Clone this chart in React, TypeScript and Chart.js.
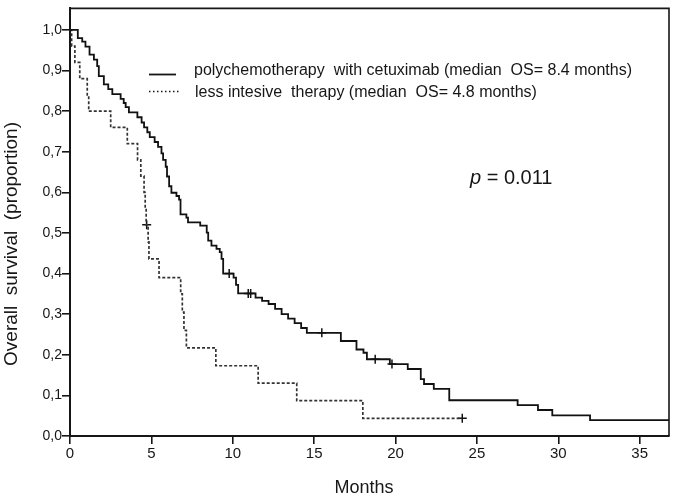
import { useEffect, useRef } from "react";
import { Chart, registerables } from "chart.js";

Chart.register(...registerables);

// Kaplan-Meier: polychemotherapy with cetuximab (time in months, survival proportion after event)
const cetuxTimes = [
  0, 0.48, 0.75, 0.95, 1.2, 1.47, 1.67, 1.77, 2.08, 2.35, 2.6, 3.11, 3.3, 3.42, 3.62,
  4.14, 4.4, 4.55, 4.75, 4.9, 5.2, 5.41, 5.62, 5.72, 5.88, 5.96, 6.09, 6.23, 6.54, 6.7,
  6.79, 7.15, 7.25, 8.0, 8.4, 8.49, 8.69, 9.0, 9.2, 9.31, 9.41, 10.05, 10.2, 10.33,
  11.4, 11.8, 12.2, 12.6, 13.0, 13.4, 13.8, 14.2, 14.55, 16.64, 17.6, 18.03, 18.24,
  19.65, 20.75, 21.55, 21.75, 22.35, 23.3, 27.5, 28.75, 29.63, 31.95, 36.8,
];
const cetuxSurvival = [
  1.0, 0.98, 0.971, 0.959, 0.939, 0.927, 0.911, 0.886, 0.866, 0.854, 0.842, 0.83, 0.82, 0.81, 0.797,
  0.785, 0.772, 0.76, 0.748, 0.736, 0.724, 0.712, 0.696, 0.68, 0.663, 0.639, 0.615, 0.599, 0.591, 0.582,
  0.546, 0.538, 0.526, 0.518, 0.501, 0.481, 0.469, 0.461, 0.453, 0.436, 0.4, 0.39, 0.372, 0.351,
  0.341, 0.333, 0.325, 0.313, 0.3, 0.289, 0.278, 0.266, 0.254, 0.234, 0.213, 0.205, 0.189,
  0.177, 0.165, 0.14, 0.128, 0.116, 0.088, 0.076, 0.064, 0.051, 0.039, 0.039,
];
const cetuxCensorTimes = [9.78, 10.95, 11.1, 15.47, 18.75, 19.78];
const cetuxCensorSurvival = [0.4, 0.351, 0.351, 0.254, 0.189, 0.177];

// Kaplan-Meier: less intensive therapy
const lessTimes = [
  0, 0.1, 0.3, 0.6, 1.06, 1.15, 2.5, 3.52, 4.15, 4.35, 4.55, 4.62, 4.68, 4.8, 4.85,
  5.47, 6.8, 6.9, 7.0, 7.15, 8.96, 11.56, 13.93, 17.99, 24.1,
];
const lessSurvival = [
  1.0, 0.96, 0.92, 0.88, 0.84, 0.8, 0.76, 0.72, 0.68, 0.64, 0.6, 0.56, 0.52, 0.478, 0.436,
  0.39, 0.35, 0.305, 0.26, 0.217, 0.173, 0.13, 0.087, 0.0435, 0.0435,
];
const lessCensorTimes = [4.71, 24.1];
const lessCensorSurvival = [0.52, 0.0435];

const xTicks = [0, 5, 10, 15, 20, 25, 30, 35];
const yTicks = [0, 0.1, 0.2, 0.3, 0.4, 0.5, 0.6, 0.7, 0.8, 0.9, 1.0];

const legendLabels = [
  "polychemotherapy  with cetuximab (median  OS= 8.4 months)",
  "less intesive  therapy (median  OS= 4.8 months)",
];
const xTitle = "Months";
const yTitle = "Overall  survival  (proportion)";
const pLabel = "p";
const pValueText = " = 0.011";

const FONT = "'Liberation Sans', Arial, sans-serif";
const INK = "#161616";

const overlayPlugin = {
  id: "overlay",
  afterDraw(chart: any) {
    const ctx = chart.ctx as CanvasRenderingContext2D;
    const a = chart.chartArea;
    ctx.save();
    // frame top and right
    ctx.strokeStyle = INK;
    ctx.lineWidth = 1.6;
    ctx.beginPath();
    ctx.moveTo(a.left, a.top);
    ctx.lineTo(a.right, a.top);
    ctx.lineTo(a.right, a.bottom);
    ctx.stroke();

    // legend
    ctx.fillStyle = INK;
    ctx.font = `16px ${FONT}`;
    ctx.textBaseline = "middle";
    ctx.textAlign = "left";
    ctx.fillText(legendLabels[0], 194, 71);
    ctx.fillText(legendLabels[1], 195, 93);
    ctx.lineWidth = 1.8;
    ctx.beginPath();
    ctx.moveTo(149, 74.5);
    ctx.lineTo(176, 74.5);
    ctx.stroke();
    ctx.setLineDash([1.5, 2.5]);
    ctx.lineWidth = 1.4;
    ctx.beginPath();
    ctx.moveTo(149, 91.5);
    ctx.lineTo(180, 91.5);
    ctx.stroke();
    ctx.setLineDash([]);

    // p-value
    ctx.font = `italic 20px ${FONT}`;
    const pw = ctx.measureText(pLabel).width;
    ctx.fillText(pLabel, 470, 178);
    ctx.font = `20px ${FONT}`;
    ctx.fillText(pValueText, 470 + pw, 178);

    // axis titles
    ctx.font = `18px ${FONT}`;
    ctx.textAlign = "center";
    ctx.fillText(xTitle, 364, 488);
    ctx.save();
    ctx.translate(12, 244);
    ctx.rotate(-Math.PI / 2);
    ctx.font = `19px ${FONT}`;
    ctx.fillText(yTitle, 0, 0);
    ctx.restore();
    ctx.restore();
  },
};

export default function App() {
  const ref = useRef<HTMLCanvasElement | null>(null);

  useEffect(() => {
    document.body.style.margin = "0";
    if (!ref.current) return;
    const toPts = (xs: number[], ys: number[]) => xs.map((x, i) => ({ x, y: ys[i] }));
    const chart = new Chart(ref.current, {
      type: "line",
      data: {
        datasets: [
          {
            label: "cetuximab",
            data: toPts(cetuxTimes, cetuxSurvival),
            stepped: "before",
            borderColor: "#111",
            borderWidth: 1.8,
            pointRadius: 0,
            fill: false,
          },
          {
            label: "less intensive",
            data: toPts(lessTimes, lessSurvival),
            stepped: "before",
            borderColor: "#333",
            borderWidth: 1.7,
            borderDash: [3, 2],
            pointRadius: 0,
            fill: false,
          },
          {
            type: "scatter",
            label: "cetux censored",
            data: toPts(cetuxCensorTimes, cetuxCensorSurvival),
            pointStyle: "cross",
            pointRadius: 4.5,
            borderColor: "#111",
            borderWidth: 1.5,
            showLine: false,
          } as any,
          {
            type: "scatter",
            label: "less censored",
            data: toPts(lessCensorTimes, lessCensorSurvival),
            pointStyle: "cross",
            pointRadius: 4.5,
            borderColor: "#111",
            borderWidth: 1.5,
            showLine: false,
          } as any,
        ],
      },
      options: {
        responsive: false,
        animation: false,
        devicePixelRatio: 1,
        layout: { padding: { left: 0, top: 3, right: 6, bottom: 0 } },
        plugins: { legend: { display: false }, tooltip: { enabled: false } },
        scales: {
          x: {
            type: "linear",
            min: 0,
            max: 36.8,
            afterBuildTicks: (s: any) => {
              s.ticks = xTicks.map((v) => ({ value: v }));
            },
            afterFit: (s: any) => {
              s.height = 64;
            },
            ticks: {
              font: { family: FONT, size: 15 },
              color: INK,
              padding: 1,
              callback: (v: any) => String(v),
            },
            grid: { drawOnChartArea: false, drawTicks: true, tickLength: 8, color: INK, lineWidth: 1.6 },
            border: { display: true, color: INK, width: 2 },
          },
          y: {
            type: "linear",
            min: 0,
            max: 1.053,
            afterBuildTicks: (s: any) => {
              s.ticks = yTicks.map((v) => ({ value: v }));
            },
            afterFit: (s: any) => {
              s.width = 70;
            },
            ticks: {
              font: { family: FONT, size: 14 },
              color: INK,
              padding: 0,
              callback: (v: any) => Number(v).toFixed(1).replace(".", ","),
            },
            grid: { drawOnChartArea: false, drawTicks: true, tickLength: 8, color: INK, lineWidth: 1.6 },
            border: { display: true, color: INK, width: 2 },
          },
        },
      },
      plugins: [overlayPlugin],
    } as any);
    return () => chart.destroy();
  }, []);

  return (
    <div style={{ width: 675, height: 500 }}>
      <canvas ref={ref} width={675} height={500} style={{ display: "block" }} />
    </div>
  );
}
